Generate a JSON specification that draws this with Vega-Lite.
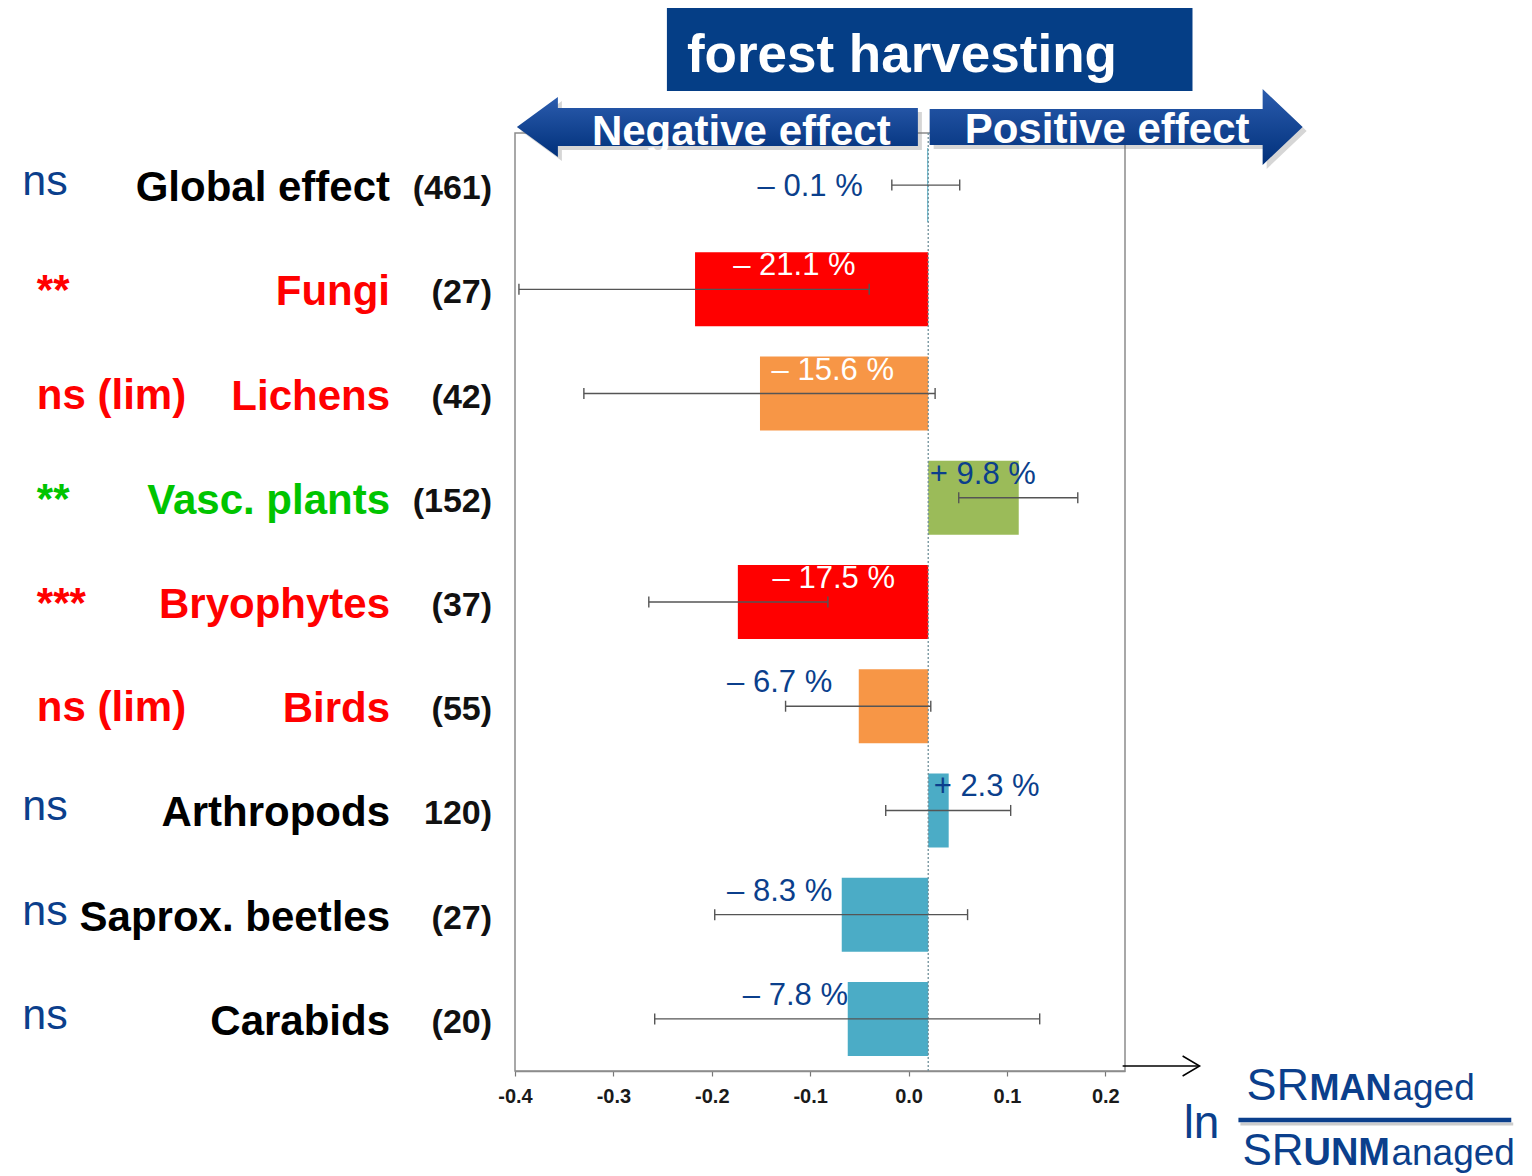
{
  "$schema": "https://vega.github.io/schema/vega-lite/v6.json",
  "width": 610,
  "height": 938,
  "autosize": {"type": "none"},
  "padding": {"left": 515, "top": 133, "right": 407, "bottom": 105},
  "background": "white",
  "config": {"font": "Liberation Sans", "view": {"stroke": "#8c8c8c", "strokeWidth": 1.5}},
  "data": {
    "values": [
      {"group": "Global effect", "n_label": "(461)", "sig": "ns", "outcome": "not significant", "value": 0.019, "lo": -0.017, "hi": 0.052, "label": "– 0.1 %", "label_at": -0.1},
      {"group": "Fungi", "n_label": "(27)", "sig": "**", "outcome": "significant decrease", "value": -0.217, "lo": -0.396, "hi": -0.04, "label": "– 21.1 %", "label_at": -0.116},
      {"group": "Lichens", "n_label": "(42)", "sig": "ns (lim)", "outcome": "marginal decrease", "value": -0.151, "lo": -0.33, "hi": 0.027, "label": "– 15.6 %", "label_at": -0.077},
      {"group": "Vasc. plants", "n_label": "(152)", "sig": "**", "outcome": "significant increase", "value": 0.112, "lo": 0.051, "hi": 0.172, "label": "+ 9.8 %", "label_at": 0.0755},
      {"group": "Bryophytes", "n_label": "(37)", "sig": "***", "outcome": "significant decrease", "value": -0.1735, "lo": -0.264, "hi": -0.082, "label": "– 17.5 %", "label_at": -0.076},
      {"group": "Birds", "n_label": "(55)", "sig": "ns (lim)", "outcome": "marginal decrease", "value": -0.0506, "lo": -0.125, "hi": 0.0226, "label": "– 6.7 %", "label_at": -0.131},
      {"group": "Arthropods", "n_label": "120)", "sig": "ns", "outcome": "not significant", "value": 0.0408, "lo": -0.0232, "hi": 0.1038, "label": "+ 2.3 %", "label_at": 0.0794},
      {"group": "Saprox. beetles", "n_label": "(27)", "sig": "ns", "outcome": "not significant", "value": -0.0679, "lo": -0.197, "hi": 0.06, "label": "– 8.3 %", "label_at": -0.131},
      {"group": "Carabids", "n_label": "(20)", "sig": "ns", "outcome": "not significant", "value": -0.0618, "lo": -0.258, "hi": 0.1333, "label": "– 7.8 %", "label_at": -0.115}
    ]
  },
  "layer": [
    {
      "layer": [
        {
          "mark": {"type": "bar"},
          "encoding": {
            "y": {"field": "group", "type": "nominal", "title": null, "axis": null,
                  "scale": {"domain": ["Global effect", "Fungi", "Lichens", "Vasc. plants", "Bryophytes", "Birds", "Arthropods", "Saprox. beetles", "Carabids"], "paddingInner": 0.29, "paddingOuter": 0.145}},
            "x": {"field": "value", "type": "quantitative", "title": null,
                  "scale": {"domain": [-0.4, 0.22], "nice": false, "zero": false},
                  "axis": {"title": null, "values": [-0.4, -0.3, -0.2, -0.1, 0, 0.1, 0.2], "labelExpr": "replace(format(datum.value, '.1f'), '\u2212', '-')", "labelFlush": false, "labelFont": "Liberation Sans", "labelFontWeight": "bold", "labelFontSize": 20, "labelColor": "#1a1a1a", "tickColor": "#777777", "tickSize": 5, "tickWidth": 1.2, "domainColor": "#8c8c8c", "domainWidth": 1.5, "grid": false, "labelPadding": 10}},
            "x2": {"datum": 0.02},
            "fill": {"field": "outcome", "type": "nominal", "legend": null,
                     "scale": {"domain": ["significant decrease", "marginal decrease", "significant increase", "not significant"], "range": ["#FF0000", "#F79646", "#9BBB59", "#4BACC6"]}}
          }
        },
        {
          "data": {"values": [{}]},
          "mark": {"type": "rule", "color": "#6f8f99", "strokeDash": [2, 2], "strokeWidth": 1.3},
          "encoding": {"x": {"datum": 0.02}}
        },
        {
          "mark": {"type": "rule", "color": "#555555", "strokeWidth": 1.4},
          "encoding": {
            "y": {"field": "group", "type": "nominal"},
            "x": {"field": "lo", "type": "quantitative", "title": null},
            "x2": {"field": "hi"}
          }
        },
        {
          "mark": {"type": "tick", "color": "#555555", "thickness": 1.4, "size": 11, "opacity": 1},
          "encoding": {
            "y": {"field": "group", "type": "nominal"},
            "x": {"field": "lo", "type": "quantitative", "title": null}
          }
        },
        {
          "mark": {"type": "tick", "color": "#555555", "thickness": 1.4, "size": 11, "opacity": 1},
          "encoding": {
            "y": {"field": "group", "type": "nominal"},
            "x": {"field": "hi", "type": "quantitative", "title": null}
          }
        },
        {
          "transform": [{"filter": "datum.group === 'Global effect'"}],
          "mark": {"type": "text", "fontSize": 31, "dy": 11, "align": "center", "baseline": "alphabetic", "color": "#0B3F8C"},
          "encoding": {
            "y": {"field": "group", "type": "nominal"},
            "x": {"field": "label_at", "type": "quantitative", "title": null},
            "text": {"field": "label"}
          }
        },
        {
          "transform": [{"filter": "datum.group !== 'Global effect'"}],
          "mark": {"type": "text", "fontSize": 31, "dy": -14, "align": "center", "baseline": "alphabetic"},
          "encoding": {
            "y": {"field": "group", "type": "nominal"},
            "x": {"field": "label_at", "type": "quantitative", "title": null},
            "text": {"field": "label"},
            "color": {"condition": {"test": "datum.value < -0.1", "value": "#FFFFFF"}, "value": "#0B3F8C"}
          }
        },
        {
          "transform": [{"filter": "datum.sig === 'ns'"}],
          "mark": {"type": "text", "fontSize": 43, "dy": 10, "align": "left", "baseline": "alphabetic", "color": "#0B3F8C"},
          "encoding": {
            "y": {"field": "group", "type": "nominal"},
            "x": {"datum": -0.9008},
            "text": {"field": "sig"}
          }
        },
        {
          "transform": [{"filter": "datum.sig !== 'ns'"}],
          "mark": {"type": "text", "fontSize": 42, "fontWeight": "bold", "dy": 15, "align": "left", "baseline": "alphabetic"},
          "encoding": {
            "y": {"field": "group", "type": "nominal"},
            "x": {"datum": -0.886},
            "text": {"field": "sig"},
            "color": {"field": "outcome", "type": "nominal", "legend": null,
                      "scale": {"domain": ["significant decrease", "marginal decrease", "significant increase", "not significant"], "range": ["#FF0000", "#FF0000", "#00C400", "#000000"]}}
          }
        },
        {
          "mark": {"type": "text", "fontSize": 42, "fontWeight": "bold", "dy": 16, "align": "right", "baseline": "alphabetic"},
          "encoding": {
            "y": {"field": "group", "type": "nominal"},
            "x": {"datum": -0.527},
            "text": {"field": "group"},
            "color": {"field": "outcome", "type": "nominal", "legend": null,
                      "scale": {"domain": ["significant decrease", "marginal decrease", "significant increase", "not significant"], "range": ["#FF0000", "#FF0000", "#00C400", "#000000"]}}
          }
        },
        {
          "mark": {"type": "text", "fontSize": 34, "fontWeight": "bold", "dy": 14, "align": "right", "baseline": "alphabetic", "color": "#111111"},
          "encoding": {
            "y": {"field": "group", "type": "nominal"},
            "x": {"datum": -0.4233},
            "text": {"field": "n_label"}
          }
        }
      ]
    },
    {
      "data": {"values": [{}]},
      "layer": [
        {
          "mark": {"type": "rect", "color": "#053E86"},
          "encoding": {
            "x": {"datum": -0.2456}, "x2": {"datum": 0.2886},
            "y": {"datum": -1.199, "type": "quantitative", "axis": null, "scale": {"domain": [0, 9], "reverse": true}},
            "y2": {"datum": -0.403}
          }
        },
        {
          "mark": {"type": "text", "text": "forest harvesting", "fontSize": 53, "fontWeight": "bold", "color": "#FFFFFF", "align": "left", "baseline": "alphabetic"},
          "encoding": {"x": {"datum": -0.2253}, "y": {"datum": -0.5853, "type": "quantitative"}}
        },
        {
          "mark": {"type": "point", "shape": "M -1 0 L -0.7955 -0.1496 L -0.7955 -0.0948 L 1 -0.0948 L 1 0.0948 L -0.7955 0.0948 L -0.7955 0.1496 Z", "size": 160801, "filled": true, "color": "#777777", "opacity": 0.3, "strokeWidth": 0},
          "encoding": {"x": {"datum": -0.1902}, "y": {"datum": -0.0192, "type": "quantitative"}}
        },
        {
          "mark": {"type": "point", "shape": "M 1 0 L 0.7855 -0.2038 L 0.7855 -0.0965 L -1 -0.0965 L -1 0.0965 L 0.7855 0.0965 L 0.7855 0.2038 Z", "size": 139129, "filled": true, "color": "#777777", "opacity": 0.3, "strokeWidth": 0},
          "encoding": {"x": {"datum": 0.2151}, "y": {"datum": -0.0192, "type": "quantitative"}}
        },
        {
          "mark": {"type": "point", "shape": "M -1 0 L -0.7955 -0.1496 L -0.7955 -0.0948 L 1 -0.0948 L 1 0.0948 L -0.7955 0.0948 L -0.7955 0.1496 Z", "size": 160801, "filled": true, "opacity": 1, "strokeWidth": 0,
                   "fill": {"gradient": "linear", "x1": 0, "y1": 0, "x2": 0, "y2": 1, "stops": [{"offset": 0, "color": "#2b5cae"}, {"offset": 1, "color": "#00307a"}]}},
          "encoding": {"x": {"datum": -0.1943}, "y": {"datum": -0.0576, "type": "quantitative"}}
        },
        {
          "mark": {"type": "point", "shape": "M 1 0 L 0.7855 -0.2038 L 0.7855 -0.0965 L -1 -0.0965 L -1 0.0965 L 0.7855 0.0965 L 0.7855 0.2038 Z", "size": 139129, "filled": true, "opacity": 1, "strokeWidth": 0,
                   "fill": {"gradient": "linear", "x1": 0, "y1": 0, "x2": 0, "y2": 1, "stops": [{"offset": 0, "color": "#2b5cae"}, {"offset": 1, "color": "#00307a"}]}},
          "encoding": {"x": {"datum": 0.211}, "y": {"datum": -0.0576, "type": "quantitative"}}
        },
        {
          "mark": {"type": "text", "text": "Negative effect", "fontSize": 42, "fontWeight": "bold", "color": "#FFFFFF", "align": "center", "baseline": "alphabetic"},
          "encoding": {"x": {"datum": -0.17}, "y": {"datum": 0.1151, "type": "quantitative"}}
        },
        {
          "mark": {"type": "text", "text": "Positive effect", "fontSize": 42, "fontWeight": "bold", "color": "#FFFFFF", "align": "center", "baseline": "alphabetic"},
          "encoding": {"x": {"datum": 0.2018}, "y": {"datum": 0.096, "type": "quantitative"}}
        },
        {
          "mark": {"type": "rule", "color": "#000000", "strokeWidth": 1.5},
          "encoding": {"x": {"datum": 0.2176}, "x2": {"datum": 0.2955}, "y": {"datum": 8.952, "type": "quantitative"}}
        },
        {
          "mark": {"type": "point", "shape": "M -0.85 -1 L 0.85 0 L -0.85 1", "size": 400, "filled": false, "color": "#000000", "opacity": 1, "strokeWidth": 1.5},
          "encoding": {"x": {"datum": 0.2872}, "y": {"datum": 8.952, "type": "quantitative"}}
        },
        {
          "mark": {"type": "rule", "color": "#aaaaaa", "strokeWidth": 3, "opacity": 0.6},
          "encoding": {"x": {"datum": 0.3373}, "x2": {"datum": 0.6146}, "y": {"datum": 9.509, "type": "quantitative"}}
        },
        {
          "mark": {"type": "rule", "color": "#0B3F8C", "strokeWidth": 4.5},
          "encoding": {"x": {"datum": 0.3353}, "x2": {"datum": 0.6126}, "y": {"datum": 9.47, "type": "quantitative"}}
        },
        {
          "mark": {"type": "text", "text": "ln", "fontSize": 46, "color": "#0B3F8C", "align": "left", "baseline": "alphabetic"},
          "encoding": {"x": {"datum": 0.2796}, "y": {"datum": 9.643, "type": "quantitative"}}
        },
        {
          "mark": {"type": "text", "text": "SR", "fontSize": 45, "color": "#0B3F8C", "align": "left", "baseline": "alphabetic"},
          "encoding": {"x": {"datum": 0.3435}, "y": {"datum": 9.278, "type": "quantitative"}}
        },
        {
          "mark": {"type": "text", "text": "MAN", "fontSize": 36, "fontWeight": "bold", "color": "#0B3F8C", "align": "left", "baseline": "alphabetic"},
          "encoding": {"x": {"datum": 0.4075}, "y": {"datum": 9.278, "type": "quantitative"}}
        },
        {
          "mark": {"type": "text", "text": "aged", "fontSize": 37, "color": "#0B3F8C", "align": "left", "baseline": "alphabetic"},
          "encoding": {"x": {"datum": 0.4918}, "y": {"datum": 9.278, "type": "quantitative"}}
        },
        {
          "mark": {"type": "text", "text": "SR", "fontSize": 44, "color": "#0B3F8C", "align": "left", "baseline": "alphabetic"},
          "encoding": {"x": {"datum": 0.3394}, "y": {"datum": 9.905, "type": "quantitative"}}
        },
        {
          "mark": {"type": "text", "text": "UNM", "fontSize": 38, "fontWeight": "bold", "color": "#0B3F8C", "align": "left", "baseline": "alphabetic"},
          "encoding": {"x": {"datum": 0.4014}, "y": {"datum": 9.905, "type": "quantitative"}}
        },
        {
          "mark": {"type": "text", "text": "anaged", "fontSize": 37, "color": "#0B3F8C", "align": "left", "baseline": "alphabetic"},
          "encoding": {"x": {"datum": 0.4908}, "y": {"datum": 9.905, "type": "quantitative"}}
        }
      ]
    }
  ],
  "resolve": {"scale": {"y": "independent"}}
}
